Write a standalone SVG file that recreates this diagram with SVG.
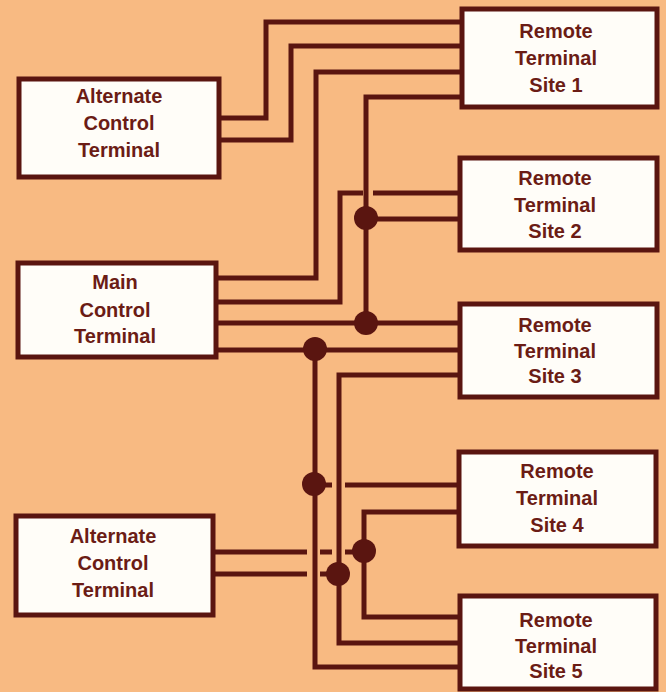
<svg xmlns="http://www.w3.org/2000/svg" width="666" height="692" viewBox="0 0 666 692">
<defs>
<style>
.box{fill:#FFFDF8;stroke:#5A1510;stroke-width:5}
.t{font-family:"Liberation Sans",Arial,sans-serif;font-weight:bold;font-size:20px;fill:#6B1C15;text-anchor:middle}
.w{fill:none;stroke:#5A1510;stroke-width:5;stroke-linejoin:miter;stroke-linecap:butt}
.d{fill:#5A1510}
</style>
</defs>
<rect x="0" y="0" width="666" height="692" fill="#F8BA82"/>
<g id="connectors">
<path class="w" d="M218 118 H266 V22 H462"/>
<path class="w" d="M218 140 H291 V46 H462"/>
<path class="w" d="M216 278 H316 V72 H462"/>
<path class="w" d="M216 302 H340 V193 H363"/>
<path class="w" d="M373 193 H462"/>
<path class="w" d="M462 97 H366 V323"/>
<path class="w" d="M366 219 H462"/>
<path class="w" d="M216 323 H460"/>
<path class="w" d="M216 350 H460"/>
<path class="w" d="M460 375 H339 V643 H460"/>
<path class="w" d="M315 350 V667 H460"/>
<path class="w" d="M315 485 H332"/>
<path class="w" d="M345 485 H459"/>
<path class="w" d="M459 512 H364 V617 H460"/>
<path class="w" d="M213 552 H307"/>
<path class="w" d="M320 552 H332"/>
<path class="w" d="M345 552 H364"/>
<path class="w" d="M213 574 H307"/>
<path class="w" d="M320 574 H339"/>
<circle class="d" cx="366" cy="218" r="12"/>
<circle class="d" cx="366" cy="323" r="12"/>
<circle class="d" cx="315" cy="349" r="12"/>
<circle class="d" cx="314" cy="484" r="12"/>
<circle class="d" cx="364" cy="551" r="12"/>
<circle class="d" cx="338" cy="574" r="12"/>
</g>
<g id="alt1">
<rect class="box" x="19" y="79" width="200" height="98"/>
<text class="t" x="119" y="103">Alternate</text>
<text class="t" x="119" y="130">Control</text>
<text class="t" x="119" y="157">Terminal</text>
</g>
<g id="main">
<rect class="box" x="18" y="263" width="198" height="94"/>
<text class="t" x="115" y="289">Main</text>
<text class="t" x="115" y="317">Control</text>
<text class="t" x="115" y="343">Terminal</text>
</g>
<g id="alt2">
<rect class="box" x="16" y="516" width="197" height="99"/>
<text class="t" x="113" y="543">Alternate</text>
<text class="t" x="113" y="570">Control</text>
<text class="t" x="113" y="597">Terminal</text>
</g>
<g id="site1">
<rect class="box" x="462" y="9" width="195" height="98"/>
<text class="t" x="556" y="38">Remote</text>
<text class="t" x="556" y="65">Terminal</text>
<text class="t" x="556" y="92">Site 1</text>
</g>
<g id="site2">
<rect class="box" x="460" y="158" width="197" height="92"/>
<text class="t" x="555" y="185">Remote</text>
<text class="t" x="555" y="212">Terminal</text>
<text class="t" x="555" y="238">Site 2</text>
</g>
<g id="site3">
<rect class="box" x="460" y="304" width="197" height="93"/>
<text class="t" x="555" y="332">Remote</text>
<text class="t" x="555" y="358">Terminal</text>
<text class="t" x="555" y="383">Site 3</text>
</g>
<g id="site4">
<rect class="box" x="459" y="452" width="197" height="94"/>
<text class="t" x="557" y="478">Remote</text>
<text class="t" x="557" y="505">Terminal</text>
<text class="t" x="557" y="532">Site 4</text>
</g>
<g id="site5">
<rect class="box" x="460" y="596" width="196" height="93"/>
<text class="t" x="556" y="627">Remote</text>
<text class="t" x="556" y="653">Terminal</text>
<text class="t" x="556" y="678">Site 5</text>
</g>
</svg>
